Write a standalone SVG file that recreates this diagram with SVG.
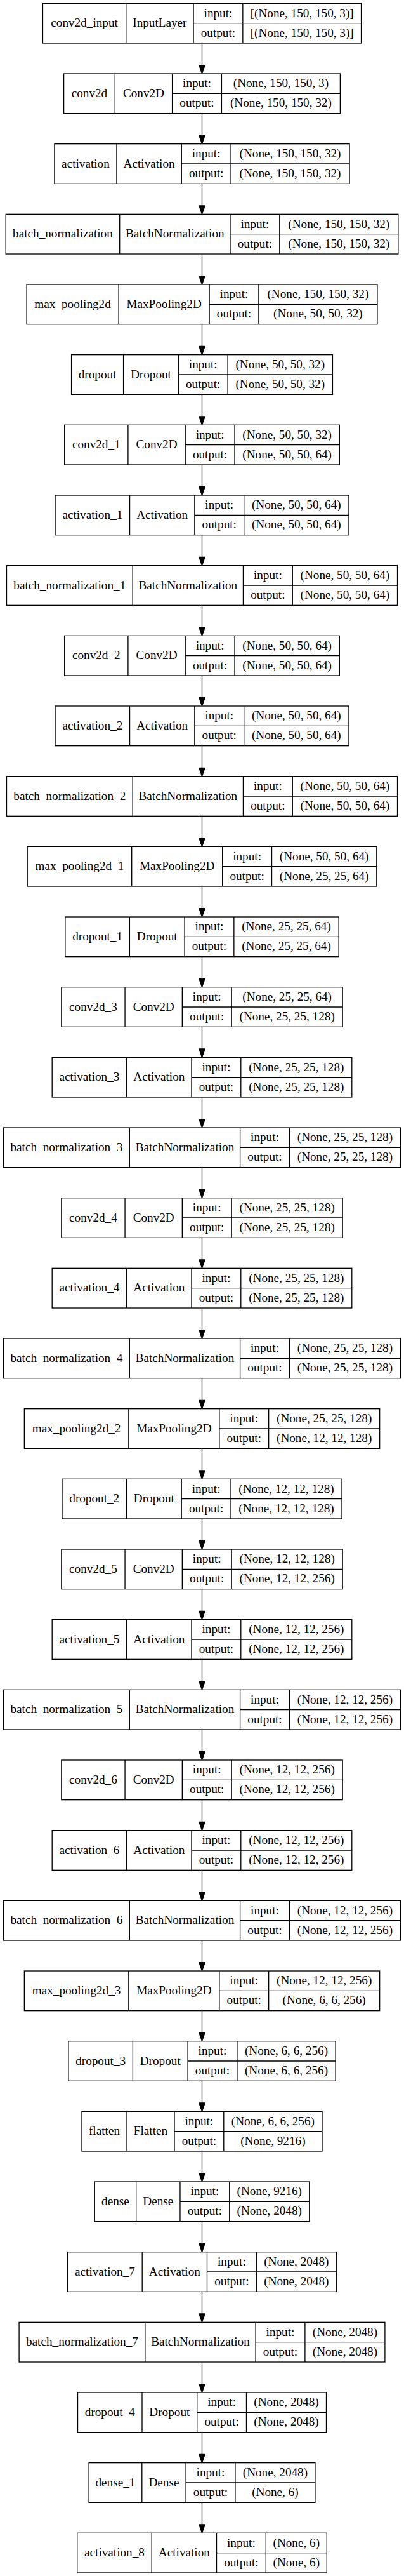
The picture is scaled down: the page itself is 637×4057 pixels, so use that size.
<svg xmlns="http://www.w3.org/2000/svg" width="637" height="4057" viewBox="0 0 637 4057">
<style>
text{font-family:"Liberation Serif","Times New Roman",serif;font-size:19.2px;text-anchor:middle;fill:#000}
.b{fill:#fff;stroke:#000;stroke-width:1.33}
.l{fill:none;stroke:#000;stroke-width:1.33}
.e{fill:none;stroke:#000;stroke-width:1.33;marker-end:url(#ah)}
</style>
<defs>
<marker id="ah" markerUnits="userSpaceOnUse" viewBox="-1 -1 15.33 11.33" refX="0" refY="4.67" markerWidth="15.33" markerHeight="11.33" orient="auto" overflow="visible">
<path d="M0,0L13.33,4.67L0,9.33z" fill="#000" stroke="#000" stroke-width="1.33"/>
</marker>
</defs>
<rect width="637" height="4057" fill="#fff"/>
<g id="edges">
<path class="e" d="M318.5 68V102.67"/>
<path class="e" d="M318.5 178.67V213.33"/>
<path class="e" d="M318.5 289.33V324"/>
<path class="e" d="M318.5 400V434.67"/>
<path class="e" d="M318.5 510.67V545.33"/>
<path class="e" d="M318.5 621.33V656"/>
<path class="e" d="M318.5 732V766.67"/>
<path class="e" d="M318.5 842.67V877.33"/>
<path class="e" d="M318.5 953.33V988"/>
<path class="e" d="M318.5 1064V1098.67"/>
<path class="e" d="M318.5 1174.67V1209.33"/>
<path class="e" d="M318.5 1285.33V1320"/>
<path class="e" d="M318.5 1396V1430.67"/>
<path class="e" d="M318.5 1506.67V1541.33"/>
<path class="e" d="M318.5 1617.33V1652"/>
<path class="e" d="M318.5 1728V1762.67"/>
<path class="e" d="M318.5 1838.67V1873.33"/>
<path class="e" d="M318.5 1949.33V1984"/>
<path class="e" d="M318.5 2060V2094.67"/>
<path class="e" d="M318.5 2170.67V2205.33"/>
<path class="e" d="M318.5 2281.33V2316"/>
<path class="e" d="M318.5 2392V2426.67"/>
<path class="e" d="M318.5 2502.67V2537.33"/>
<path class="e" d="M318.5 2613.33V2648"/>
<path class="e" d="M318.5 2724V2758.67"/>
<path class="e" d="M318.5 2834.67V2869.33"/>
<path class="e" d="M318.5 2945.33V2980"/>
<path class="e" d="M318.5 3056V3090.67"/>
<path class="e" d="M318.5 3166.67V3201.33"/>
<path class="e" d="M318.5 3277.33V3312"/>
<path class="e" d="M318.5 3388V3422.67"/>
<path class="e" d="M318.5 3498.67V3533.33"/>
<path class="e" d="M318.5 3609.33V3644"/>
<path class="e" d="M318.5 3720V3754.67"/>
<path class="e" d="M318.5 3830.67V3865.33"/>
<path class="e" d="M318.5 3941.33V3976"/>
</g>

<g id="conv2d_input" transform="translate(67.45,5.33)">
<rect class="b" width="502.1" height="62.67"/>
<path class="l" d="M131.3 0V62.67M237.6 0V62.67M315.4 0V62.67M237.6 31.33H502.1"/>
<text x="65.65" y="36.9">conv2d_input</text><text x="184.45" y="36.9">InputLayer</text>
<text x="276.5" y="21.2">input:</text><text x="276.5" y="52.4">output:</text>
<text x="408.75" y="21.2">[(None, 150, 150, 3)]</text><text x="408.75" y="52.4">[(None, 150, 150, 3)]</text>
</g>

<g id="conv2d" transform="translate(100.6,116)">
<rect class="b" width="435.8" height="62.67"/>
<path class="l" d="M80.7 0V62.67M171 0V62.67M248.8 0V62.67M171 31.33H435.8"/>
<text x="40.35" y="36.9">conv2d</text><text x="125.85" y="36.9">Conv2D</text>
<text x="209.9" y="21.2">input:</text><text x="209.9" y="52.4">output:</text>
<text x="342.3" y="21.2">(None, 150, 150, 3)</text><text x="342.3" y="52.4">(None, 150, 150, 32)</text>
</g>

<g id="activation" transform="translate(85.95,226.67)">
<rect class="b" width="465.1" height="62.67"/>
<path class="l" d="M98 0V62.67M200.3 0V62.67M278.1 0V62.67M200.3 31.33H465.1"/>
<text x="49" y="36.9">activation</text><text x="149.15" y="36.9">Activation</text>
<text x="239.2" y="21.2">input:</text><text x="239.2" y="52.4">output:</text>
<text x="371.6" y="21.2">(None, 150, 150, 32)</text><text x="371.6" y="52.4">(None, 150, 150, 32)</text>
</g>

<g id="batch_normalization" transform="translate(9.2,337.33)">
<rect class="b" width="618.6" height="62.67"/>
<path class="l" d="M179.5 0V62.67M353.8 0V62.67M431.6 0V62.67M353.8 31.33H618.6"/>
<text x="89.75" y="36.9">batch_normalization</text><text x="266.65" y="36.9">BatchNormalization</text>
<text x="392.7" y="21.2">input:</text><text x="392.7" y="52.4">output:</text>
<text x="525.1" y="21.2">(None, 150, 150, 32)</text><text x="525.1" y="52.4">(None, 150, 150, 32)</text>
</g>

<g id="max_pooling2d" transform="translate(42.1,448)">
<rect class="b" width="552.8" height="62.67"/>
<path class="l" d="M145 0V62.67M288 0V62.67M365.8 0V62.67M288 31.33H552.8"/>
<text x="72.5" y="36.9">max_pooling2d</text><text x="216.5" y="36.9">MaxPooling2D</text>
<text x="326.9" y="21.2">input:</text><text x="326.9" y="52.4">output:</text>
<text x="459.3" y="21.2">(None, 150, 150, 32)</text><text x="459.3" y="52.4">(None, 50, 50, 32)</text>
</g>

<g id="dropout" transform="translate(112.6,558.67)">
<rect class="b" width="411.8" height="62.67"/>
<path class="l" d="M82 0V62.67M168.7 0V62.67M246.5 0V62.67M168.7 31.33H411.8"/>
<text x="41" y="36.9">dropout</text><text x="125.35" y="36.9">Dropout</text>
<text x="207.6" y="21.2">input:</text><text x="207.6" y="52.4">output:</text>
<text x="329.15" y="21.2">(None, 50, 50, 32)</text><text x="329.15" y="52.4">(None, 50, 50, 32)</text>
</g>

<g id="conv2d_1" transform="translate(101.7,669.33)">
<rect class="b" width="433.6" height="62.67"/>
<path class="l" d="M100.2 0V62.67M190.5 0V62.67M268.3 0V62.67M190.5 31.33H433.6"/>
<text x="50.1" y="36.9">conv2d_1</text><text x="145.35" y="36.9">Conv2D</text>
<text x="229.4" y="21.2">input:</text><text x="229.4" y="52.4">output:</text>
<text x="350.95" y="21.2">(None, 50, 50, 32)</text><text x="350.95" y="52.4">(None, 50, 50, 64)</text>
</g>

<g id="activation_1" transform="translate(87.05,780)">
<rect class="b" width="462.9" height="62.67"/>
<path class="l" d="M117.5 0V62.67M219.8 0V62.67M297.6 0V62.67M219.8 31.33H462.9"/>
<text x="58.75" y="36.9">activation_1</text><text x="168.65" y="36.9">Activation</text>
<text x="258.7" y="21.2">input:</text><text x="258.7" y="52.4">output:</text>
<text x="380.25" y="21.2">(None, 50, 50, 64)</text><text x="380.25" y="52.4">(None, 50, 50, 64)</text>
</g>

<g id="batch_normalization_1" transform="translate(10.45,890.67)">
<rect class="b" width="616.1" height="62.67"/>
<path class="l" d="M198.7 0V62.67M373 0V62.67M450.8 0V62.67M373 31.33H616.1"/>
<text x="99.35" y="36.9">batch_normalization_1</text><text x="285.85" y="36.9">BatchNormalization</text>
<text x="411.9" y="21.2">input:</text><text x="411.9" y="52.4">output:</text>
<text x="533.45" y="21.2">(None, 50, 50, 64)</text><text x="533.45" y="52.4">(None, 50, 50, 64)</text>
</g>

<g id="conv2d_2" transform="translate(101.7,1001.33)">
<rect class="b" width="433.6" height="62.67"/>
<path class="l" d="M100.2 0V62.67M190.5 0V62.67M268.3 0V62.67M190.5 31.33H433.6"/>
<text x="50.1" y="36.9">conv2d_2</text><text x="145.35" y="36.9">Conv2D</text>
<text x="229.4" y="21.2">input:</text><text x="229.4" y="52.4">output:</text>
<text x="350.95" y="21.2">(None, 50, 50, 64)</text><text x="350.95" y="52.4">(None, 50, 50, 64)</text>
</g>

<g id="activation_2" transform="translate(87.05,1112)">
<rect class="b" width="462.9" height="62.67"/>
<path class="l" d="M117.5 0V62.67M219.8 0V62.67M297.6 0V62.67M219.8 31.33H462.9"/>
<text x="58.75" y="36.9">activation_2</text><text x="168.65" y="36.9">Activation</text>
<text x="258.7" y="21.2">input:</text><text x="258.7" y="52.4">output:</text>
<text x="380.25" y="21.2">(None, 50, 50, 64)</text><text x="380.25" y="52.4">(None, 50, 50, 64)</text>
</g>

<g id="batch_normalization_2" transform="translate(10.45,1222.67)">
<rect class="b" width="616.1" height="62.67"/>
<path class="l" d="M198.7 0V62.67M373 0V62.67M450.8 0V62.67M373 31.33H616.1"/>
<text x="99.35" y="36.9">batch_normalization_2</text><text x="285.85" y="36.9">BatchNormalization</text>
<text x="411.9" y="21.2">input:</text><text x="411.9" y="52.4">output:</text>
<text x="533.45" y="21.2">(None, 50, 50, 64)</text><text x="533.45" y="52.4">(None, 50, 50, 64)</text>
</g>

<g id="max_pooling2d_1" transform="translate(43.2,1333.33)">
<rect class="b" width="550.6" height="62.67"/>
<path class="l" d="M164.5 0V62.67M307.5 0V62.67M385.3 0V62.67M307.5 31.33H550.6"/>
<text x="82.25" y="36.9">max_pooling2d_1</text><text x="236" y="36.9">MaxPooling2D</text>
<text x="346.4" y="21.2">input:</text><text x="346.4" y="52.4">output:</text>
<text x="467.95" y="21.2">(None, 50, 50, 64)</text><text x="467.95" y="52.4">(None, 25, 25, 64)</text>
</g>

<g id="dropout_1" transform="translate(102.85,1444)">
<rect class="b" width="431.3" height="62.67"/>
<path class="l" d="M101.5 0V62.67M188.2 0V62.67M266 0V62.67M188.2 31.33H431.3"/>
<text x="50.75" y="36.9">dropout_1</text><text x="144.85" y="36.9">Dropout</text>
<text x="227.1" y="21.2">input:</text><text x="227.1" y="52.4">output:</text>
<text x="348.65" y="21.2">(None, 25, 25, 64)</text><text x="348.65" y="52.4">(None, 25, 25, 64)</text>
</g>

<g id="conv2d_3" transform="translate(96.85,1554.67)">
<rect class="b" width="443.3" height="62.67"/>
<path class="l" d="M100.2 0V62.67M190.5 0V62.67M268.3 0V62.67M190.5 31.33H443.3"/>
<text x="50.1" y="36.9">conv2d_3</text><text x="145.35" y="36.9">Conv2D</text>
<text x="229.4" y="21.2">input:</text><text x="229.4" y="52.4">output:</text>
<text x="355.8" y="21.2">(None, 25, 25, 64)</text><text x="355.8" y="52.4">(None, 25, 25, 128)</text>
</g>

<g id="activation_3" transform="translate(82.2,1665.33)">
<rect class="b" width="472.6" height="62.67"/>
<path class="l" d="M117.5 0V62.67M219.8 0V62.67M297.6 0V62.67M219.8 31.33H472.6"/>
<text x="58.75" y="36.9">activation_3</text><text x="168.65" y="36.9">Activation</text>
<text x="258.7" y="21.2">input:</text><text x="258.7" y="52.4">output:</text>
<text x="385.1" y="21.2">(None, 25, 25, 128)</text><text x="385.1" y="52.4">(None, 25, 25, 128)</text>
</g>

<g id="batch_normalization_3" transform="translate(5.6,1776)">
<rect class="b" width="625.8" height="62.67"/>
<path class="l" d="M198.7 0V62.67M373 0V62.67M450.8 0V62.67M373 31.33H625.8"/>
<text x="99.35" y="36.9">batch_normalization_3</text><text x="285.85" y="36.9">BatchNormalization</text>
<text x="411.9" y="21.2">input:</text><text x="411.9" y="52.4">output:</text>
<text x="538.3" y="21.2">(None, 25, 25, 128)</text><text x="538.3" y="52.4">(None, 25, 25, 128)</text>
</g>

<g id="conv2d_4" transform="translate(96.85,1886.67)">
<rect class="b" width="443.3" height="62.67"/>
<path class="l" d="M100.2 0V62.67M190.5 0V62.67M268.3 0V62.67M190.5 31.33H443.3"/>
<text x="50.1" y="36.9">conv2d_4</text><text x="145.35" y="36.9">Conv2D</text>
<text x="229.4" y="21.2">input:</text><text x="229.4" y="52.4">output:</text>
<text x="355.8" y="21.2">(None, 25, 25, 128)</text><text x="355.8" y="52.4">(None, 25, 25, 128)</text>
</g>

<g id="activation_4" transform="translate(82.2,1997.33)">
<rect class="b" width="472.6" height="62.67"/>
<path class="l" d="M117.5 0V62.67M219.8 0V62.67M297.6 0V62.67M219.8 31.33H472.6"/>
<text x="58.75" y="36.9">activation_4</text><text x="168.65" y="36.9">Activation</text>
<text x="258.7" y="21.2">input:</text><text x="258.7" y="52.4">output:</text>
<text x="385.1" y="21.2">(None, 25, 25, 128)</text><text x="385.1" y="52.4">(None, 25, 25, 128)</text>
</g>

<g id="batch_normalization_4" transform="translate(5.6,2108)">
<rect class="b" width="625.8" height="62.67"/>
<path class="l" d="M198.7 0V62.67M373 0V62.67M450.8 0V62.67M373 31.33H625.8"/>
<text x="99.35" y="36.9">batch_normalization_4</text><text x="285.85" y="36.9">BatchNormalization</text>
<text x="411.9" y="21.2">input:</text><text x="411.9" y="52.4">output:</text>
<text x="538.3" y="21.2">(None, 25, 25, 128)</text><text x="538.3" y="52.4">(None, 25, 25, 128)</text>
</g>

<g id="max_pooling2d_2" transform="translate(38.35,2218.67)">
<rect class="b" width="560.3" height="62.67"/>
<path class="l" d="M164.5 0V62.67M307.5 0V62.67M385.3 0V62.67M307.5 31.33H560.3"/>
<text x="82.25" y="36.9">max_pooling2d_2</text><text x="236" y="36.9">MaxPooling2D</text>
<text x="346.4" y="21.2">input:</text><text x="346.4" y="52.4">output:</text>
<text x="472.8" y="21.2">(None, 25, 25, 128)</text><text x="472.8" y="52.4">(None, 12, 12, 128)</text>
</g>

<g id="dropout_2" transform="translate(98,2329.33)">
<rect class="b" width="441" height="62.67"/>
<path class="l" d="M101.5 0V62.67M188.2 0V62.67M266 0V62.67M188.2 31.33H441"/>
<text x="50.75" y="36.9">dropout_2</text><text x="144.85" y="36.9">Dropout</text>
<text x="227.1" y="21.2">input:</text><text x="227.1" y="52.4">output:</text>
<text x="353.5" y="21.2">(None, 12, 12, 128)</text><text x="353.5" y="52.4">(None, 12, 12, 128)</text>
</g>

<g id="conv2d_5" transform="translate(96.85,2440)">
<rect class="b" width="443.3" height="62.67"/>
<path class="l" d="M100.2 0V62.67M190.5 0V62.67M268.3 0V62.67M190.5 31.33H443.3"/>
<text x="50.1" y="36.9">conv2d_5</text><text x="145.35" y="36.9">Conv2D</text>
<text x="229.4" y="21.2">input:</text><text x="229.4" y="52.4">output:</text>
<text x="355.8" y="21.2">(None, 12, 12, 128)</text><text x="355.8" y="52.4">(None, 12, 12, 256)</text>
</g>

<g id="activation_5" transform="translate(82.2,2550.67)">
<rect class="b" width="472.6" height="62.67"/>
<path class="l" d="M117.5 0V62.67M219.8 0V62.67M297.6 0V62.67M219.8 31.33H472.6"/>
<text x="58.75" y="36.9">activation_5</text><text x="168.65" y="36.9">Activation</text>
<text x="258.7" y="21.2">input:</text><text x="258.7" y="52.4">output:</text>
<text x="385.1" y="21.2">(None, 12, 12, 256)</text><text x="385.1" y="52.4">(None, 12, 12, 256)</text>
</g>

<g id="batch_normalization_5" transform="translate(5.6,2661.33)">
<rect class="b" width="625.8" height="62.67"/>
<path class="l" d="M198.7 0V62.67M373 0V62.67M450.8 0V62.67M373 31.33H625.8"/>
<text x="99.35" y="36.9">batch_normalization_5</text><text x="285.85" y="36.9">BatchNormalization</text>
<text x="411.9" y="21.2">input:</text><text x="411.9" y="52.4">output:</text>
<text x="538.3" y="21.2">(None, 12, 12, 256)</text><text x="538.3" y="52.4">(None, 12, 12, 256)</text>
</g>

<g id="conv2d_6" transform="translate(96.85,2772)">
<rect class="b" width="443.3" height="62.67"/>
<path class="l" d="M100.2 0V62.67M190.5 0V62.67M268.3 0V62.67M190.5 31.33H443.3"/>
<text x="50.1" y="36.9">conv2d_6</text><text x="145.35" y="36.9">Conv2D</text>
<text x="229.4" y="21.2">input:</text><text x="229.4" y="52.4">output:</text>
<text x="355.8" y="21.2">(None, 12, 12, 256)</text><text x="355.8" y="52.4">(None, 12, 12, 256)</text>
</g>

<g id="activation_6" transform="translate(82.2,2882.67)">
<rect class="b" width="472.6" height="62.67"/>
<path class="l" d="M117.5 0V62.67M219.8 0V62.67M297.6 0V62.67M219.8 31.33H472.6"/>
<text x="58.75" y="36.9">activation_6</text><text x="168.65" y="36.9">Activation</text>
<text x="258.7" y="21.2">input:</text><text x="258.7" y="52.4">output:</text>
<text x="385.1" y="21.2">(None, 12, 12, 256)</text><text x="385.1" y="52.4">(None, 12, 12, 256)</text>
</g>

<g id="batch_normalization_6" transform="translate(5.6,2993.33)">
<rect class="b" width="625.8" height="62.67"/>
<path class="l" d="M198.7 0V62.67M373 0V62.67M450.8 0V62.67M373 31.33H625.8"/>
<text x="99.35" y="36.9">batch_normalization_6</text><text x="285.85" y="36.9">BatchNormalization</text>
<text x="411.9" y="21.2">input:</text><text x="411.9" y="52.4">output:</text>
<text x="538.3" y="21.2">(None, 12, 12, 256)</text><text x="538.3" y="52.4">(None, 12, 12, 256)</text>
</g>

<g id="max_pooling2d_3" transform="translate(38.35,3104)">
<rect class="b" width="560.3" height="62.67"/>
<path class="l" d="M164.5 0V62.67M307.5 0V62.67M385.3 0V62.67M307.5 31.33H560.3"/>
<text x="82.25" y="36.9">max_pooling2d_3</text><text x="236" y="36.9">MaxPooling2D</text>
<text x="346.4" y="21.2">input:</text><text x="346.4" y="52.4">output:</text>
<text x="472.8" y="21.2">(None, 12, 12, 256)</text><text x="472.8" y="52.4">(None, 6, 6, 256)</text>
</g>

<g id="dropout_3" transform="translate(107.9,3214.67)">
<rect class="b" width="421.2" height="62.67"/>
<path class="l" d="M101.5 0V62.67M188.2 0V62.67M266 0V62.67M188.2 31.33H421.2"/>
<text x="50.75" y="36.9">dropout_3</text><text x="144.85" y="36.9">Dropout</text>
<text x="227.1" y="21.2">input:</text><text x="227.1" y="52.4">output:</text>
<text x="343.6" y="21.2">(None, 6, 6, 256)</text><text x="343.6" y="52.4">(None, 6, 6, 256)</text>
</g>

<g id="flatten" transform="translate(129,3325.33)">
<rect class="b" width="379" height="62.67"/>
<path class="l" d="M71 0V62.67M146 0V62.67M223.8 0V62.67M146 31.33H379"/>
<text x="35.5" y="36.9">flatten</text><text x="108.5" y="36.9">Flatten</text>
<text x="184.9" y="21.2">input:</text><text x="184.9" y="52.4">output:</text>
<text x="301.4" y="21.2">(None, 6, 6, 256)</text><text x="301.4" y="52.4">(None, 9216)</text>
</g>

<g id="dense" transform="translate(149.25,3436)">
<rect class="b" width="338.5" height="62.67"/>
<path class="l" d="M65.4 0V62.67M134.7 0V62.67M212.5 0V62.67M134.7 31.33H338.5"/>
<text x="32.7" y="36.9">dense</text><text x="100.05" y="36.9">Dense</text>
<text x="173.6" y="21.2">input:</text><text x="173.6" y="52.4">output:</text>
<text x="275.5" y="21.2">(None, 9216)</text><text x="275.5" y="52.4">(None, 2048)</text>
</g>

<g id="activation_7" transform="translate(106.7,3546.67)">
<rect class="b" width="423.6" height="62.67"/>
<path class="l" d="M117.5 0V62.67M219.8 0V62.67M297.6 0V62.67M219.8 31.33H423.6"/>
<text x="58.75" y="36.9">activation_7</text><text x="168.65" y="36.9">Activation</text>
<text x="258.7" y="21.2">input:</text><text x="258.7" y="52.4">output:</text>
<text x="360.6" y="21.2">(None, 2048)</text><text x="360.6" y="52.4">(None, 2048)</text>
</g>

<g id="batch_normalization_7" transform="translate(30.1,3657.33)">
<rect class="b" width="576.8" height="62.67"/>
<path class="l" d="M198.7 0V62.67M373 0V62.67M450.8 0V62.67M373 31.33H576.8"/>
<text x="99.35" y="36.9">batch_normalization_7</text><text x="285.85" y="36.9">BatchNormalization</text>
<text x="411.9" y="21.2">input:</text><text x="411.9" y="52.4">output:</text>
<text x="513.8" y="21.2">(None, 2048)</text><text x="513.8" y="52.4">(None, 2048)</text>
</g>

<g id="dropout_4" transform="translate(122.5,3768)">
<rect class="b" width="392" height="62.67"/>
<path class="l" d="M101.5 0V62.67M188.2 0V62.67M266 0V62.67M188.2 31.33H392"/>
<text x="50.75" y="36.9">dropout_4</text><text x="144.85" y="36.9">Dropout</text>
<text x="227.1" y="21.2">input:</text><text x="227.1" y="52.4">output:</text>
<text x="329" y="21.2">(None, 2048)</text><text x="329" y="52.4">(None, 2048)</text>
</g>

<g id="dense_1" transform="translate(140.1,3878.67)">
<rect class="b" width="356.8" height="62.67"/>
<path class="l" d="M83.7 0V62.67M153 0V62.67M230.8 0V62.67M153 31.33H356.8"/>
<text x="41.85" y="36.9">dense_1</text><text x="118.35" y="36.9">Dense</text>
<text x="191.9" y="21.2">input:</text><text x="191.9" y="52.4">output:</text>
<text x="293.8" y="21.2">(None, 2048)</text><text x="293.8" y="52.4">(None, 6)</text>
</g>

<g id="activation_8" transform="translate(121.7,3989.33)">
<rect class="b" width="393.6" height="62.67"/>
<path class="l" d="M117.5 0V62.67M219.8 0V62.67M297.6 0V62.67M219.8 31.33H393.6"/>
<text x="58.75" y="36.9">activation_8</text><text x="168.65" y="36.9">Activation</text>
<text x="258.7" y="21.2">input:</text><text x="258.7" y="52.4">output:</text>
<text x="345.6" y="21.2">(None, 6)</text><text x="345.6" y="52.4">(None, 6)</text>
</g>
</svg>
